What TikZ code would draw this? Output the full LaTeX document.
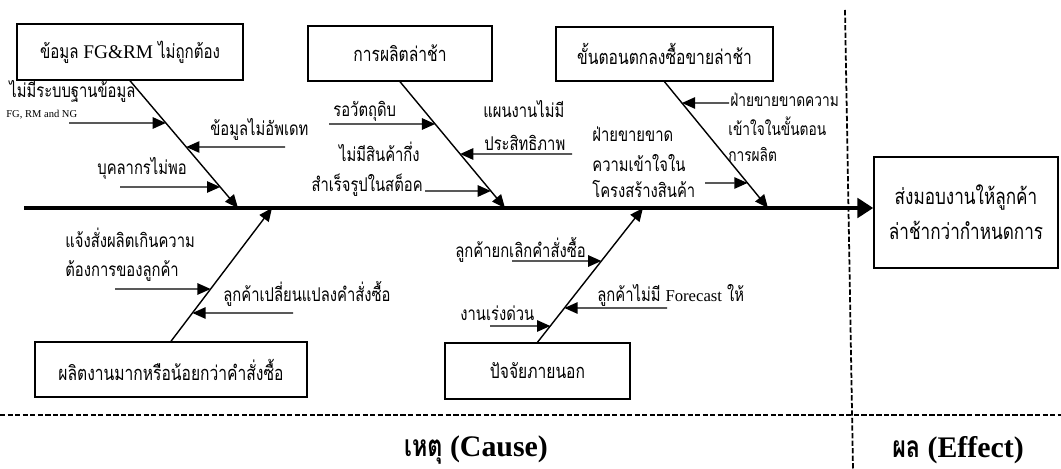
\documentclass[tikz,border=0pt]{standalone}
\usepackage{fontspec}
\setmainfont{Liberation Serif}
\newfontfamily\thaifont[Script=Thai,FakeStretch=0.78]{Loma}
\usetikzlibrary{arrows.meta}
\begin{document}
\begin{tikzpicture}[x=0.02cm,y=-0.02cm,
  boxnode/.style={draw,line width=0.85pt,inner sep=0pt,align=center,font=\fontsize{11.4}{14}\selectfont},
  lbl/.style={inner sep=0pt,anchor=base west,font=\thaifont\fontsize{10.8}{12}\selectfont},
  lblr/.style={inner sep=0pt,anchor=base east,font=\thaifont\fontsize{10.8}{12}\selectfont},
  bone/.style={line width=0.8pt,-{Triangle[length=7.5pt,width=6.5pt]}},
  twig/.style={line width=0.8pt,-{Triangle[length=7.5pt,width=6.5pt]}},
  spine/.style={line width=2.2pt,-{Triangle[length=9pt,width=11pt]}},
  sep/.style={line width=1pt,dash pattern=on 3pt off 1.3pt},
  bigl/.style={inner sep=0pt,font=\bfseries\fontsize{17}{20}\selectfont}]
\useasboundingbox (0,0) rectangle (1061,469);

% boxes
\node[boxnode,minimum width=4.52cm,minimum height=1.12cm,font=\fontsize{11}{14}\selectfont] (b1) at (130,52) {{\thaifont ข้อมูล} FG\&RM {\thaifont ไม่ถูกต้อง}};
\node[boxnode,minimum width=3.68cm,minimum height=1.10cm] (b2) at (400,53.5) {\thaifont การผลิตล่าช้า};
\node[boxnode,minimum width=4.34cm,minimum height=1.08cm] (b3) at (664.5,54) {\thaifont ขั้นตอนตกลงซื้อขายล่าช้า};
\node[boxnode,minimum width=5.44cm,minimum height=1.10cm] (b4) at (171,369.5) {\thaifont ผลิตงานมากหรือน้อยกว่าคำสั่งซื้อ};
\node[boxnode,minimum width=3.70cm,minimum height=1.12cm] (b5) at (537.5,371) {\thaifont ปัจจัยภายนอก};
\node[boxnode,minimum width=3.68cm,minimum height=2.22cm,font=\thaifont\fontsize{12.5}{19.8}\selectfont] (eff) at (966,212.5) {ส่งมอบงานให้ลูกค้า\\ล่าช้ากว่ากำหนดการ};

% spine
\coordinate (sp0) at (24,208);
\coordinate (s1) at (238,208);
\coordinate (s2) at (505,208);
\coordinate (s3) at (768,208);
\coordinate (s4) at (272,208);
\coordinate (s5) at (643,208);
\draw[spine] (sp0) -- (sp0 -| eff.west);

% bones
\draw[bone] (b1.south) -- (s1);
\draw[bone] (b2.south) -- (s2);
\draw[bone] (b3.south) -- (s3);
\draw[bone] (b4.north) -- (s4);
\draw[bone] (b5.north) -- (s5);

% separators
\coordinate (v0) at (845,10);
\coordinate (v1) at (853,469);
\coordinate (h0) at (0,415);
\coordinate (h1) at (1061,415);
\draw[sep] (v0) -- (v1);
\draw[sep] (h0) -- (h1);

% labels, bone 1
\node[lbl] (t1) at (9,98) {ไม่มีระบบฐานข้อมูล};
\node[inner sep=0pt,anchor=base west,font=\fontsize{6}{7}\selectfont] (t2) at (6,118) {FG, RM and NG};
\coordinate (a1) at (69,123);
\draw[twig] (a1) -- (intersection of 69,123--70,123 and b1.south--s1);
\node[lbl] (t3) at (210,136) {ข้อมูลไม่อัพเดท};
\coordinate (a2) at (285,147);
\draw[twig] (a2) -- (intersection of 285,147--286,147 and b1.south--s1);
\node[lbl] (t4) at (97,175) {บุคลากรไม่พอ};
\coordinate (a3) at (120,187);
\draw[twig] (a3) -- (intersection of 120,187--121,187 and b1.south--s1);

% labels, bone 2
\node[lbl] (t5) at (333,117) {รอวัตถุดิบ};
\coordinate (a4) at (329,124);
\draw[twig] (a4) -- (intersection of 329,124--330,124 and b2.south--s2);
\node[lbl] (t6a) at (483,118) {แผนงานไม่มี};
\node[lbl] (t6b) at (484,151) {ประสิทธิภาพ};
\coordinate (a5) at (572,154);
\draw[twig] (a5) -- (intersection of 572,154--573,154 and b2.south--s2);
\node[lblr] (t7a) at (420,162) {ไม่มีสินค้ากึ่ง};
\node[lblr] (t7b) at (423,192) {สำเร็จรูปในสต็อค};
\coordinate (a6) at (425,191);
\draw[twig] (a6) -- (intersection of 425,191--426,191 and b2.south--s2);

% labels, bone 3
\node[lbl,font=\thaifont\fontsize{10}{12}\selectfont] (t8a) at (730,107) {ฝ่ายขายขาดความ};
\node[lbl,font=\thaifont\fontsize{10}{12}\selectfont] (t8b) at (728,136) {เข้าใจในขั้นตอน};
\node[lbl,font=\thaifont\fontsize{10}{12}\selectfont] (t8c) at (728,162) {การผลิต};
\coordinate (a7) at (729,103);
\draw[twig] (a7) -- (intersection of 729,103--730,103 and b3.south--s3);
\node[lbl] (t9a) at (592,142) {ฝ่ายขายขาด};
\node[lbl] (t9b) at (592,172) {ความเข้าใจใน};
\node[lbl] (t9c) at (592,198) {โครงสร้างสินค้า};
\coordinate (a8) at (705,183);
\draw[twig] (a8) -- (intersection of 705,183--706,183 and b3.south--s3);

% labels, bone 4
\node[lbl] (t10a) at (65,248) {แจ้งสั่งผลิตเกินความ};
\node[lbl] (t10b) at (65,277) {ต้องการของลูกค้า};
\coordinate (a9) at (115,289);
\draw[twig] (a9) -- (intersection of 115,289--116,289 and b4.north--s4);
\node[lbl] (t11) at (223,302) {ลูกค้าเปลี่ยนแปลงคำสั่งซื้อ};
\coordinate (a10) at (293,313);
\draw[twig] (a10) -- (intersection of 293,313--294,313 and b4.north--s4);

% labels, bone 5
\node[lbl] (t12) at (455,258) {ลูกค้ายกเลิกคำสั่งซื้อ};
\coordinate (a11) at (512,261);
\draw[twig] (a11) -- (intersection of 512,261--513,261 and b5.north--s5);
\node[lbl] (t13) at (597,302) {ลูกค้าไม่มี {\normalfont\fontsize{9.5}{12}\selectfont Forecast} ให้};
\coordinate (a12) at (667,308);
\draw[twig] (a12) -- (intersection of 667,308--668,308 and b5.north--s5);
\node[lbl] (t14) at (460,320) {งานเร่งด่วน};
\coordinate (a13) at (490,326);
\draw[twig] (a13) -- (intersection of 490,326--491,326 and b5.north--s5);

% bottom titles
\node[bigl] (cause) at (476,450) {{\thaifont เหตุ} (Cause)};
\node[bigl] (effect) at (958,450) {{\thaifont ผล} (Effect)};
\end{tikzpicture}
\end{document}
